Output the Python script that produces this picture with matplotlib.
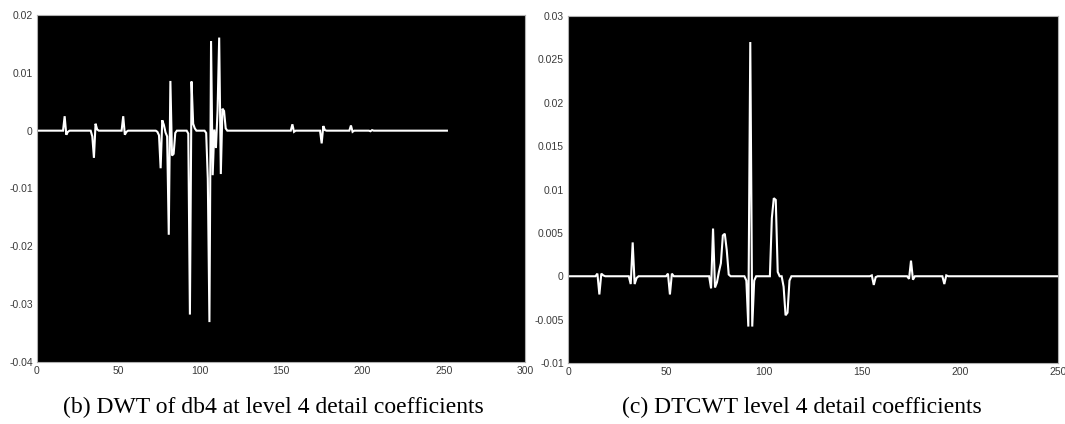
import numpy as np
import matplotlib
matplotlib.use('Agg')
import matplotlib.pyplot as plt

# (b) DWT db4 level 4 detail coefficients, nonzero samples
dwt_len = 252
dwt_idx = [17, 18, 19,
           34, 35, 36, 37,
           53, 54, 55,
           74, 75, 76, 77, 78, 79, 80, 81, 82, 83, 84, 85,
           93, 94, 95, 96, 97,
           104, 105, 106, 107, 108, 109, 110, 111, 112, 113, 114, 115, 116,
           157, 158, 175, 176, 177, 193, 194, 205, 206]
dwt_val = [0.0025, -0.0007, -0.0002,
           -0.0010, -0.0047, 0.0012, 0.0002,
           0.0025, -0.0007, -0.0002,
           -0.0002, -0.0008, -0.0065, 0.0018, 0.0010, -0.0003, -0.0010, -0.0180, 0.0086, -0.0043, -0.0040, -0.0004,
           -0.0005, -0.0318, 0.0085, 0.0012, 0.0004,
           -0.0004, -0.0083, -0.0331, 0.0155, -0.0077, 0.0002, -0.0030, 0.0035, 0.0161, -0.0075, 0.0038, 0.0034, 0.0004,
           0.0011, -0.0002, -0.0022, 0.0008, 0.0001, 0.0009, -0.0002, -0.0001, 0.0001]

# (c) DTCWT level 4 detail coefficients
dtcwt_len = 250
dtcwt_idx = [15, 16, 17, 18,
             32, 33, 34, 35,
             51, 52, 53,
             73, 74, 75, 76, 77, 78, 79, 80, 81, 82,
             91, 92, 93, 94, 95,
             104, 105, 106, 107,
             110, 111, 112, 113,
             155, 156, 157, 174, 175, 176, 192, 193]
dtcwt_val = [0.0003, -0.0021, 0.0003, 0.0001,
             -0.0009, 0.0039, -0.0009, -0.0002,
             0.0003, -0.0021, 0.0003,
             -0.0014, 0.0055, -0.0013, -0.0007, 0.0005, 0.0015, 0.0047, 0.0049, 0.0030, 0.0002,
             -0.0005, -0.0058, 0.0270, -0.0058, -0.0005,
             0.0067, 0.0090, 0.0088, 0.0005,
             -0.0012, -0.0045, -0.0042, -0.0005,
             0.0001, -0.0010, -0.0001, -0.0003, 0.0018, -0.0004, -0.0009, 0.0001]

left_yticks = [-0.04, -0.03, -0.02, -0.01, 0, 0.01, 0.02]
left_ylabels = ['-0.04', '-0.03', '-0.02', '-0.01', '0', '0.01', '0.02']
left_xticks = [0, 50, 100, 150, 200, 250, 300]
right_yticks = [-0.01, -0.005, 0, 0.005, 0.01, 0.015, 0.02, 0.025, 0.03]
right_ylabels = ['-0.01', '-0.005', '0', '0.005', '0.01', '0.015', '0.02', '0.025', '0.03']
right_xticks = [0, 50, 100, 150, 200, 250]

captions = ['(b) DWT of db4 at level 4 detail coefficients',
            '(c) DTCWT level 4 detail coefficients']


def build(n, idx, val):
    x = np.arange(1, n + 1)
    y = np.zeros(n)
    for i, v in zip(idx, val):
        y[i - 1] = v
    return x, y


fig = plt.figure(figsize=(10.65, 4.24), dpi=100)
ax1 = fig.add_axes([37/1065, 1-362/424, 488/1065, 347/424])
ax2 = fig.add_axes([568/1065, 1-363/424, 490/1065, 347/424])

x1, y1 = build(dwt_len, dwt_idx, dwt_val)
x2, y2 = build(dtcwt_len, dtcwt_idx, dtcwt_val)

for ax, x, y, xl, yl, xt, yt, ylab in [
        (ax1, x1, y1, (0, 300), (-0.04, 0.02), left_xticks, left_yticks, left_ylabels),
        (ax2, x2, y2, (0, 250), (-0.01, 0.03), right_xticks, right_yticks, right_ylabels)]:
    ax.set_facecolor('black')
    ax.plot(x, y, color='white', lw=1.5, solid_joinstyle='miter')
    ax.set_xlim(*xl)
    ax.set_ylim(*yl)
    ax.set_xticks(xt)
    ax.set_xticklabels([str(t) for t in xt])
    ax.set_yticks(yt)
    ax.set_yticklabels(ylab)
    ax.tick_params(length=0, labelsize=7.5, labelcolor='#3a3a3a', pad=3)
    for lab in ax.get_xticklabels() + ax.get_yticklabels():
        lab.set_family('Liberation Sans')
    for s in ax.spines.values():
        s.set_color('#b0b0b0')
        s.set_linewidth(0.8)

fig.text(273/1065, 1-413/424, captions[0], ha='center', va='baseline',
         family='Liberation Serif', fontsize=17)
fig.text(802/1065, 1-413/424, captions[1], ha='center', va='baseline',
         family='Liberation Serif', fontsize=17)

fig.savefig('out.png', dpi=100, facecolor='white')
